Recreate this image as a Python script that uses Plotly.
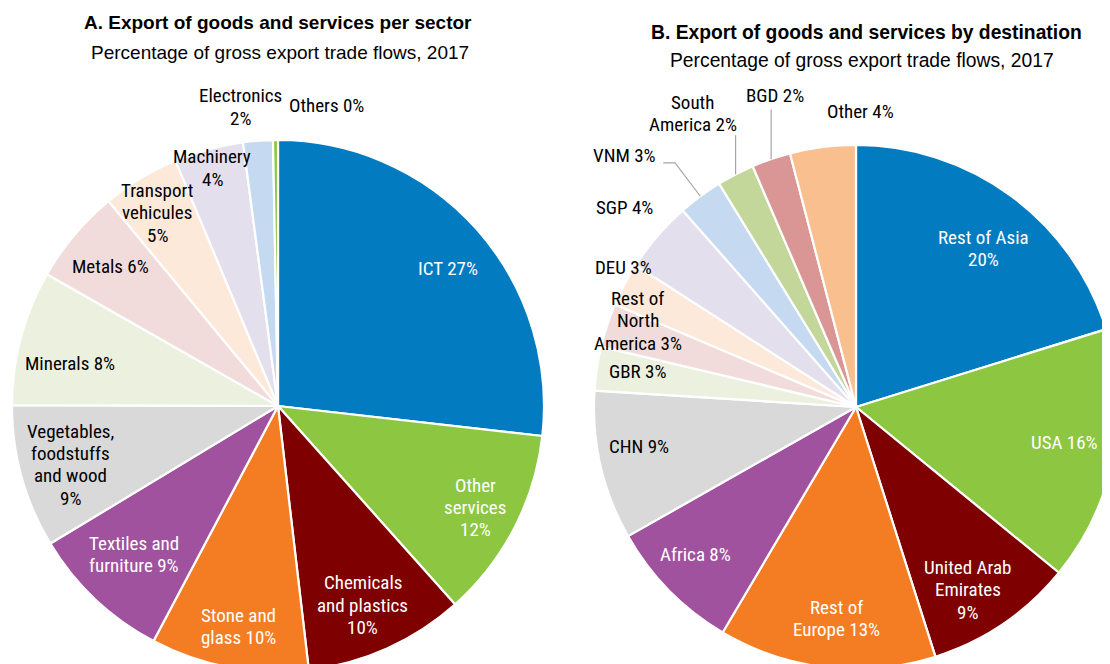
import math
import plotly.graph_objects as go

W, H = 1110, 664
OFF = 8  # page body margin: figure is drawn 8px right/down of the window origin
LABEL_FONT = "Roboto Condensed, Liberation Sans Narrow, Arial Narrow, DejaVu Sans Condensed, sans-serif"
TITLE_FONT = "Liberation Sans, Arial, sans-serif"

# ---------------- Data: Panel A (per sector) ----------------
sector_names = ["ICT", "Other services", "Chemicals and plastics", "Stone and glass",
                "Textiles and furniture", "Vegetables, foodstuffs and wood", "Minerals",
                "Metals", "Transport vehicules", "Machinery", "Electronics", "Others"]
sector_values = [26.8, 11.6, 9.75, 9.6, 8.6, 8.7, 8.2, 5.75, 4.7, 4.2, 1.8, 0.3]
sector_label_tpl = ["ICT {p}%", "Other<br>services<br>{p}%", "Chemicals<br>and plastics<br>{p}%",
                    "Stone and<br>glass {p}%", "Textiles and<br>furniture {p}%",
                    "Vegetables,<br>foodstuffs<br>and wood<br>{p}%", "Minerals {p}%", "Metals {p}%",
                    "Transport<br>vehicules<br>{p}%", "Machinery<br>{p}%", "Electronics<br>{p}%",
                    "Others {p}%"]

# ---------------- Data: Panel B (by destination) ----------------
dest_names = ["Rest of Asia", "USA", "United Arab Emirates", "Rest of Europe", "Africa", "CHN",
              "GBR", "Rest of North America", "DEU", "SGP", "VNM", "South America", "BGD", "Other"]
dest_values = [20.2, 15.7, 9.2, 13.4, 8.3, 9.2, 2.7, 2.7, 2.7, 4.4, 2.75, 2.3, 2.4, 4.05]
dest_label_tpl = ["Rest of Asia<br>{p}%", "USA {p}%", "United Arab<br>Emirates<br>{p}%",
                  "Rest of<br>Europe {p}%", "Africa {p}%", "CHN {p}%", "GBR {p}%",
                  "Rest of<br>North<br>America {p}%", "DEU {p}%", "SGP {p}%", "VNM {p}%",
                  "South<br>America {p}%", "BGD {p}%", "Other {p}%"]

titles_a = ["<b>A. Export of goods and services per sector</b>", "Percentage of gross export trade flows, 2017"]
titles_b = ["<b>B. Export of goods and services by destination</b>", "Percentage of gross export trade flows, 2017"]

# ---------------- Styles ----------------
colors_a = ["#037BC1", "#8DC641", "#7F0000", "#F47D23", "#A0529E", "#D9D9D9", "#EBF1DE",
            "#F2DCDB", "#FDE9D9", "#E4DFEC", "#C5D9F1", "#8DC641"]
colors_b = ["#037BC1", "#8DC641", "#7F0000", "#F47D23", "#A0529E", "#D9D9D9", "#EBF1DE",
            "#F2DCDB", "#FDE9D9", "#E4DFEC", "#C5D9F1", "#C4D79B", "#DA9694", "#FABF8F"]
text_white_a = [True, True, True, True, True] + [False] * 7
text_white_b = [True, True, True, True, True] + [False] * 9

# label offsets (px, relative to pie centre, at reference radius)
offs_a = [(171, -138), (198, 102), (85, 200), (-40, 221), (-145, 149), (-208, 59), (-209, -43),
          (-168, -140), (-121, -194), (-66, -239), (-38, -300), (49, -302)]
offs_b = [(129, -160), (211, 36), (113, 185), (-20, 214), (-162, 149), (-219, 40), (-221, -36),
          (-221, -87), (-235, -141), (-234, -202), (-234, -254), (-165, -297), (-82, -315), (5, -299)]
REF_R_A, REF_R_B = 267, 265

# pie geometry (screen px)
geo_a = dict(cx=278, cy=406, r=266)
geo_b = dict(cx=856, cy=407, r=262)

# leader lines: slice index -> start points (offsets at ref radius); None x = same x as slice end
leaders_b = {10: [(-195, -247), (-183, -247)], 11: [(None, -275)], 12: [(None, -301)]}

LINE = 22.3
LABEL_SIZE = 19


def px(sx):
    return (sx - OFF) / W


def py(sy):
    return 1 - (sy - OFF) / H


def domain(g):
    return dict(x=[px(g["cx"] - g["r"]), px(g["cx"] + g["r"])],
                y=[max(0.0, py(g["cy"] + g["r"])), min(1.0, py(g["cy"] - g["r"]))])


fig = go.Figure()
for names, vals, cols, g in [(sector_names, sector_values, colors_a, geo_a),
                             (dest_names, dest_values, colors_b, geo_b)]:
    fig.add_trace(go.Pie(labels=names, values=vals, sort=False, direction="clockwise",
                         rotation=0, textinfo="none", hoverinfo="label+percent",
                         marker=dict(colors=cols, line=dict(color="white", width=2.2)),
                         domain=domain(g), showlegend=False))

annotations = []


def add_text(x, y, text, size, color, family):
    annotations.append(dict(x=px(x), y=py(y), xref="paper", yref="paper", text=text,
                            showarrow=False, xanchor="center", yanchor="middle",
                            font=dict(family=family, size=size, color=color)))


def add_labels(vals, tpl, offs, white, g, ref_r):
    tot = sum(vals)
    s = g["r"] / ref_r
    for v, t, (dx, dy), w in zip(vals, tpl, offs, white):
        txt = t.format(p=int(round(v / tot * 100)))
        lines = txt.split("<br>")
        n = len(lines)
        for i, ln in enumerate(lines):
            x = g["cx"] + dx * s
            y = g["cy"] + dy * s + (i - (n - 1) / 2) * LINE
            add_text(x, y, ln, LABEL_SIZE, "white" if w else "black", LABEL_FONT)


add_labels(sector_values, sector_label_tpl, offs_a, text_white_a, geo_a, REF_R_A)
add_labels(dest_values, dest_label_tpl, offs_b, text_white_b, geo_b, REF_R_B)

# titles (screen px positions)
add_text(278, 22, titles_a[0], 19, "black", TITLE_FONT)
add_text(280, 53, titles_a[1], 19, "black", TITLE_FONT)
add_text(866, 32, titles_b[0], 19.3, "black", TITLE_FONT)
add_text(862, 61, titles_b[1], 19.3, "black", TITLE_FONT)

# leader lines from labels to slice edge (end point computed from slice mid-angle)
shapes = []
tot_b = sum(dest_values)
s_b = geo_b["r"] / REF_R_B
for idx, pts in leaders_b.items():
    cum = sum(dest_values[:idx])
    mid = (cum + dest_values[idx] / 2) / tot_b * 2 * math.pi
    ex = geo_b["cx"] + geo_b["r"] * math.sin(mid)
    ey = geo_b["cy"] - geo_b["r"] * math.cos(mid)
    path_pts = []
    for dx, dy in pts:
        sx = ex if dx is None else geo_b["cx"] + dx * s_b
        sy = geo_b["cy"] + dy * s_b
        path_pts.append((sx, sy))
    path_pts.append((ex, ey))
    d = "M " + " L ".join(f"{px(a):.5f},{py(b):.5f}" for a, b in path_pts)
    shapes.append(dict(type="path", path=d, xref="paper", yref="paper",
                       line=dict(color="#A6A6A6", width=1.2)))

fig.update_layout(width=W, height=H, margin=dict(l=0, r=0, t=0, b=0),
                  paper_bgcolor="white", plot_bgcolor="white",
                  annotations=annotations, shapes=shapes,
                  font=dict(family=LABEL_FONT, size=LABEL_SIZE, color="black"))

fig.write_html("out.html")
